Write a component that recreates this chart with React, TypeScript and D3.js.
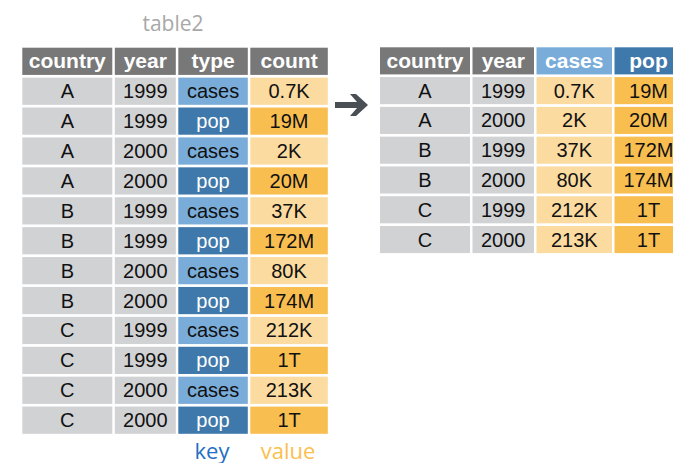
import React from 'react'
import { scaleBand, scaleOrdinal } from 'd3'

// left table (table2, long form)
const longCountry = ['A', 'A', 'A', 'A', 'B', 'B', 'B', 'B', 'C', 'C', 'C', 'C']
const longYear = ['1999', '1999', '2000', '2000', '1999', '1999', '2000', '2000', '1999', '1999', '2000', '2000']
const longType = ['cases', 'pop', 'cases', 'pop', 'cases', 'pop', 'cases', 'pop', 'cases', 'pop', 'cases', 'pop']
const longCount = ['0.7K', '19M', '2K', '20M', '37K', '172M', '80K', '174M', '212K', '1T', '213K', '1T']
const longHeaders = ['country', 'year', 'type', 'count']

// right table (spread)
const wideCountry = ['A', 'A', 'B', 'B', 'C', 'C']
const wideYear = ['1999', '2000', '1999', '2000', '1999', '2000']
const wideCases = ['0.7K', '2K', '37K', '80K', '212K', '213K']
const widePop = ['19M', '20M', '172M', '174M', '1T', '1T']
const wideHeaders = ['country', 'year', 'cases', 'pop']

const GREY = '#d1d2d4'
const HEAD = '#787878'
const LBLUE = '#79acd9'
const DBLUE = '#3f79ab'
const LORANGE = '#fcdba0'
const ORANGE = '#f9be50'

const typeFill = scaleOrdinal<string, string>().domain(['cases', 'pop']).range([LBLUE, DBLUE])
const typeText = scaleOrdinal<string, string>().domain(['cases', 'pop']).range(['#111', '#fff'])
const countFill = scaleOrdinal<string, string>().domain(['cases', 'pop']).range([LORANGE, ORANGE])

const font = 'Liberation Sans, Arial, Helvetica, sans-serif'

type Col = { x: number; w: number }

function Table({ x0, y0, step, widths, headers, headFills, cols }: {
  x0: number; y0: number; step: number; widths: number[]; headers: string[]
  headFills: string[]
  cols: { values: string[]; fill: (i: number) => string; color: (i: number) => string }[]
}) {
  const gap = 2.5
  const xs: Col[] = []
  let cx = x0
  widths.forEach(w => { xs.push({ x: cx, w }); cx += w + gap })
  const n = cols[0].values.length
  const y = scaleBand<number>()
    .domain([-1, ...cols[0].values.map((_, i) => i)])
    .range([y0, y0 + step * (n + 1)])
    .paddingInner(0.09)
    .paddingOuter(0)
  const bh = y.bandwidth()
  return (
    <g>
      {headers.map((h, j) => (
        <g key={'h' + j}>
          <rect x={xs[j].x} y={y(-1)} width={xs[j].w} height={bh} fill={headFills[j]} />
          <text x={xs[j].x + xs[j].w / 2} y={(y(-1) as number) + bh / 2 + 7} textAnchor="middle"
            fontFamily={font} fontWeight="bold" fontSize={21} fill="#fff">{h}</text>
        </g>
      ))}
      {cols.map((c, j) => c.values.map((v, i) => (
        <g key={j + '-' + i}>
          <rect x={xs[j].x} y={y(i)} width={xs[j].w} height={bh} fill={c.fill(i)} />
          <text x={xs[j].x + xs[j].w / 2} y={(y(i) as number) + bh / 2 + 7} textAnchor="middle"
            fontFamily={font} fontSize={20} fill={c.color(i)}>{v}</text>
        </g>
      )))}
    </g>
  )
}

export default function App() {
  return (
    <svg width={673} height={463} style={{ position: 'absolute', left: 0, top: 0 }}>
      <rect width={673} height={463} fill="#fff" />
      <text x={173} y={31} textAnchor="middle" fontFamily="Open Sans, Lato, sans-serif" fontSize={21} fill="#a8a8a8">table2</text>
      <Table x0={22.3} y0={47.7} step={29.7} widths={[90, 61, 69.5, 77.5]} headers={longHeaders}
        headFills={[HEAD, HEAD, HEAD, HEAD]}
        cols={[
          { values: longCountry, fill: () => GREY, color: () => '#111' },
          { values: longYear, fill: () => GREY, color: () => '#111' },
          { values: longType, fill: i => typeFill(longType[i]), color: i => typeText(longType[i]) },
          { values: longCount, fill: i => countFill(longType[i]), color: () => '#111' },
        ]} />
      <path d="M335,102 L357,102 L350,94 L356,94 L368,105 L356,116 L350,116 L357,108 L335,108 Z" fill="#4a4f56" />
      <Table x0={380} y0={47.3} step={29.4} widths={[90, 61.5, 75.5, 68]} headers={wideHeaders}
        headFills={[HEAD, HEAD, LBLUE, DBLUE]}
        cols={[
          { values: wideCountry, fill: () => GREY, color: () => '#111' },
          { values: wideYear, fill: () => GREY, color: () => '#111' },
          { values: wideCases, fill: () => LORANGE, color: () => '#111' },
          { values: widePop, fill: () => ORANGE, color: () => '#111' },
        ]} />
      <text x={212} y={459} textAnchor="middle" fontFamily="Open Sans, Lato, sans-serif" fontSize={22} fill="#1f6fc4">key</text>
      <text x={288} y={459} textAnchor="middle" fontFamily="Open Sans, Lato, sans-serif" fontSize={22} fill="#fbbf4f">value</text>
    </svg>
  )
}
